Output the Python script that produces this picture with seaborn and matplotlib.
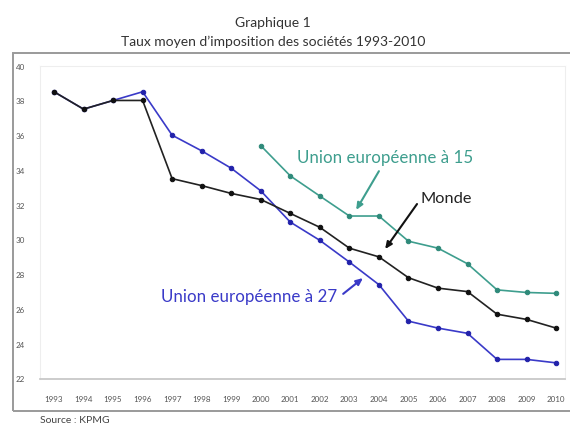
import matplotlib
matplotlib.use("Agg")
import matplotlib.pyplot as plt
import matplotlib.patches as mpatches
import seaborn as sns
import pandas as pd

# Average corporate income tax rate (%), KPMG survey
years = list(range(1993, 2011))
monde = [38.5, 37.5, 38.0, 38.0, 33.5, 33.1, 32.65, 32.3, 31.5, 30.7,
         29.5, 29.0, 27.8, 27.2, 27.0, 25.7, 25.4, 24.9]
ue27 = [38.5, 37.5, 38.0, 38.5, 36.0, 35.1, 34.1, 32.8, 31.0, 29.95,
        28.7, 27.4, 25.3, 24.9, 24.6, 23.1, 23.1, 22.9]
years_ue15 = list(range(2000, 2011))
ue15 = [35.4, 33.66, 32.5, 31.35, 31.35, 29.9, 29.5, 28.6, 27.1, 26.95, 26.9]

y_ticks = [22, 24, 26, 28, 30, 32, 34, 36, 38, 40]

label_ue15 = "Union européenne à 15"
label_monde = "Monde"
label_ue27 = "Union européenne à 27"

col_blue = "#3a3ac8"
col_blue_mk = "#2222aa"
col_teal = "#3e9e8e"
col_teal_mk = "#2f8a7a"
col_black = "#222222"

sns.set_style("white")
plt.rcParams["font.family"] = ["Lato", "DejaVu Sans"]

W, H = 570, 431
fig = plt.figure(figsize=(W / 100, H / 100), dpi=100)

# outer frame of the chart area
fig.patches.append(mpatches.Rectangle((13 / W, 1 - 412 / H), 570 / W, (412 - 54) / H,
                                      transform=fig.transFigure, fill=False,
                                      edgecolor="#9a9a9a", lw=1.4, clip_on=False))

left, right, top, bottom = 40, 565, 66.7, 379.5
ax = fig.add_axes([left / W, 1 - bottom / H, (right - left) / W, (bottom - top) / H])

df27 = pd.DataFrame({"annee": years, "taux": ue27})
dfm = pd.DataFrame({"annee": years, "taux": monde})
df15 = pd.DataFrame({"annee": years_ue15, "taux": ue15})

sns.lineplot(data=df27, x="annee", y="taux", ax=ax, color=col_blue, lw=1.2,
             marker="o", markersize=3.2, markerfacecolor=col_blue_mk,
             markeredgecolor=col_blue_mk)
sns.lineplot(data=dfm, x="annee", y="taux", ax=ax, color=col_black, lw=1.2,
             marker="o", markersize=3.2, markerfacecolor="#111111",
             markeredgecolor="#111111")
sns.lineplot(data=df15, x="annee", y="taux", ax=ax, color=col_teal, lw=1.2,
             marker="o", markersize=3.2, markerfacecolor=col_teal_mk,
             markeredgecolor=col_teal_mk)

ax.set_xlim(1992.526, 2010.30)
ax.set_ylim(22, 40)
ax.set_xticks(years)
ax.set_xticklabels([str(y) for y in years])
ax.set_yticks(y_ticks)
ax.tick_params(axis="both", length=0, labelsize=5.8, labelcolor="#555555")
ax.tick_params(axis="x", pad=12)
ax.tick_params(axis="y", pad=11)
ax.set_xlabel("")
ax.set_ylabel("")
for s in ["left", "top", "right"]:
    ax.spines[s].set_color("#eeeeee")
    ax.spines[s].set_linewidth(0.8)
ax.spines["bottom"].set_color("#c4c4c4")
ax.spines["bottom"].set_linewidth(1.2)

# series labels with pointers
arrow_style = "-|>,head_length=0.4,head_width=0.18"
ax.text(2004.2, 34.75, label_ue15, color=col_teal, fontsize=12.2,
        ha="center", va="center")
ax.annotate("", xy=(2003.23, 31.7), xytext=(2004.0, 33.93),
            arrowprops=dict(arrowstyle=arrow_style,
                            color=col_teal, lw=1.5, shrinkA=0, shrinkB=0))

ax.text(2005.4, 32.38, label_monde, color="#222222", fontsize=11.8,
        ha="left", va="center")
ax.annotate("", xy=(2004.21, 29.45), xytext=(2005.29, 32.04),
            arrowprops=dict(arrowstyle=arrow_style,
                            color="#111111", lw=1.5, shrinkA=0, shrinkB=0))

ax.text(2002.58, 26.76, label_ue27, color=col_blue, fontsize=12.2,
        ha="right", va="center")
ax.annotate("", xy=(2003.46, 27.78), xytext=(2002.79, 26.87),
            arrowprops=dict(arrowstyle=arrow_style,
                            color=col_blue, lw=1.5, shrinkA=0, shrinkB=0))

# titles and source
fig.text(273 / W, 1 - 23 / H, "Graphique 1", ha="center", va="center",
         fontsize=10, color="#333333")
fig.text(273 / W, 1 - 42 / H, "Taux moyen d\u2019imposition des sociétés 1993-2010",
         ha="center", va="center", fontsize=10, color="#333333")
fig.text(40 / W, 1 - 421 / H, "Source : KPMG", ha="left", va="center",
         fontsize=7.5, color="#444444")

fig.savefig("out.png", dpi=100)
